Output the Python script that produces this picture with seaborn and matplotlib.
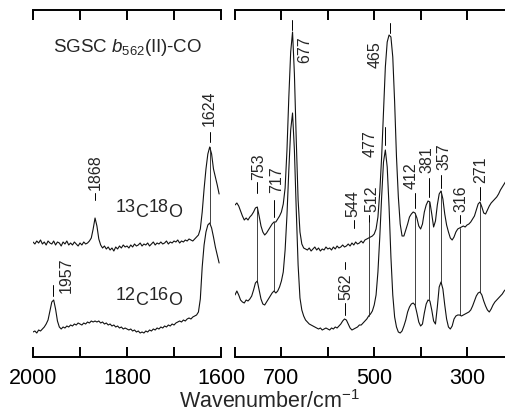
import numpy as np
import pandas as pd
import matplotlib
matplotlib.use("Agg")
import matplotlib.pyplot as plt
import matplotlib.transforms as mtransforms
import seaborn as sns

sns.set_style("white")
plt.rcParams['font.family'] = ['Liberation Sans', 'DejaVu Sans']
plt.rcParams['mathtext.fontset'] = 'custom'
plt.rcParams['mathtext.rm'] = 'Liberation Sans'
plt.rcParams['mathtext.it'] = 'Liberation Sans:italic'
plt.rcParams['mathtext.bf'] = 'Liberation Sans:bold'

# =====================================================
# DATA  (intensity in arbitrary units)
# =====================================================
# high-frequency window, 2000 -> 1604 cm-1, 4 cm-1 steps
wn_high = list(range(2000, 1603, -4))
co_13c18o = [
    115, 113, 116, 114, 117, 113, 115, 112, 116, 114,
    113, 116, 112, 115, 114, 111, 115, 113, 116, 112,
    114, 112, 115, 113, 111, 114, 112, 115, 113, 114,
    116, 119, 128, 139, 131, 118, 112, 109, 111, 108,
    110, 107, 109, 106, 110, 108, 111, 109, 112, 110,
    111, 109, 112, 110, 113, 111, 112, 114, 111, 113,
    112, 114, 111, 113, 115, 112, 114, 113, 115, 113,
    114, 116, 113, 115, 114, 116, 115, 117, 114, 116,
    115, 117, 116, 118, 117, 116, 118, 120, 122, 128,
    145, 168, 188, 203, 210, 203, 188, 180, 172, 163,
]
co_12c16o = [
    25, 26, 24, 27, 26, 28, 30, 33, 37, 46,
    55, 57, 48, 36, 30, 28, 30, 29, 31, 30,
    32, 31, 33, 32, 34, 33, 32, 34, 33, 35,
    34, 36, 35, 36, 35, 36, 34, 35, 33, 34,
    32, 33, 31, 32, 30, 31, 29, 30, 28, 29,
    28, 27, 28, 26, 27, 25, 26, 24, 25, 24,
    26, 25, 27, 26, 28, 27, 29, 28, 30, 29,
    31, 30, 32, 31, 33, 32, 34, 35, 36, 35,
    37, 36, 38, 39, 38, 40, 41, 42, 45, 58,
    90, 112, 125, 132, 134, 129, 120, 110, 102, 94,
]

# low-frequency window, 800 -> 216 cm-1, 4 cm-1 steps
wn_low = list(range(800, 215, -4))
low_13c18o = [
    152, 154, 151, 146, 141, 137, 139, 137, 140, 142,
    145, 149, 150, 141, 131, 125, 122, 124, 127, 130,
    133, 135, 135, 138, 141, 145, 153, 169, 207, 260,
    305, 325, 283, 217, 157, 125, 113, 109, 108, 107,
    109, 106, 108, 110, 107, 109, 106, 108, 107, 110,
    108, 109, 107, 110, 108, 111, 109, 110, 112, 110,
    111, 113, 111, 114, 112, 115, 113, 114, 116, 114,
    117, 118, 119, 120, 121, 123, 128, 140, 165, 200,
    245, 290, 315, 322, 320, 300, 255, 200, 160, 133,
    121, 121, 127, 133, 140, 143, 145, 144, 139, 131,
    128, 133, 145, 152, 156, 155, 143, 130, 136, 152,
    163, 166, 158, 143, 132, 125, 119, 117, 120, 125,
    128, 129, 130, 131, 130, 132, 133, 135, 138, 141,
    147, 153, 155, 150, 144, 143, 147, 151, 154, 156,
    158, 160, 163, 167, 170, 173, 176,
]
low_12c16o = [
    62, 66, 62, 57, 55, 54, 57, 56, 58, 61,
    67, 74, 76, 67, 58, 53, 52, 55, 58, 61,
    64, 66, 64, 66, 70, 76, 85, 107, 142, 187,
    227, 244, 207, 147, 92, 59, 47, 41, 37, 35,
    33, 32, 31, 30, 29, 28, 29, 27, 28, 29,
    28, 27, 29, 28, 30, 29, 31, 33, 36, 38,
    37, 33, 29, 27, 28, 29, 30, 32, 32, 34,
    36, 38, 41, 43, 46, 52, 62, 85, 120, 160,
    195, 207, 190, 150, 100, 62, 40, 30, 25, 24,
    26, 31, 37, 45, 50, 53, 54, 52, 44, 35,
    31, 33, 44, 53, 57, 56, 47, 36, 33, 50,
    70, 75, 68, 52, 38, 30, 28, 31, 38, 41,
    42, 42, 41, 42, 43, 44, 45, 47, 51, 56,
    61, 64, 65, 62, 56, 51, 47, 45, 48, 52,
    55, 57, 59, 61, 63, 66, 68,
]

peaks_high = [1957, 1868, 1624]
peaks_low = [753, 717, 677, 562, 544, 512, 477, 465, 412, 381, 357, 316, 271]

# label layout: tick (lo, hi), text x, text bottom, connector (lo, hi)
layout = {
    1957: ((61, 72), 1930, 64, None),
    1868: ((157, 164), 1868, 167, None),
    1624: ((215, 225), 1624, 231, (134, 210)),
    753: ((164, 175), 750, 177, (76, 148)),
    717: ((140, 157), 710, 164, (66, 135)),
    677: ((327, 337), 650, 294, None),
    562: ((42, 54), 562, 57, None),
    544: ((129, 137), 547, 140, None),
    512: ((135, 142), 506, 145, (41, 135)),
    477: ((212, 230), 508, 200, None),
    465: ((324, 334), 499, 289, None),
    412: ((149, 164), 420, 168, (52, 144)),
    381: ((160, 179), 387, 184, (57, 155)),
    357: ((169, 182), 350, 187, (75, 166)),
    316: ((134, 142), 313, 145, (42, 129)),
    271: ((157, 170), 270, 174, (65, 154)),
}

df_high = pd.DataFrame({'wn': wn_high, '13C18O': co_13c18o, '12C16O': co_12c16o})
df_low = pd.DataFrame({'wn': wn_low, '13C18O': low_13c18o, '12C16O': low_12c16o})

# =====================================================
# FIGURE
# =====================================================
W, H, DPI = 506, 416, 100
fig = plt.figure(figsize=(W / DPI, H / DPI), dpi=DPI)
bot = (H - 357) / H
top = (H - 10) / H
ax1 = fig.add_axes([33 / W, bot, (221 - 33) / W, top - bot])
ax2 = fig.add_axes([235 / W, bot, (506 - 235) / W, top - bot])

line_kw = dict(color='#111111', linewidth=0.8, sort=False, estimator=None, legend=False)
for ax, df in [(ax1, df_high), (ax2, df_low)]:
    sns.lineplot(data=df, x='wn', y='13C18O', ax=ax, **line_kw)
    sns.lineplot(data=df, x='wn', y='12C16O', ax=ax, **line_kw)
    ax.set_ylim(0, 347)
    ax.set_yticks([])
    ax.set_xlabel('')
    ax.set_ylabel('')
    ax.patch.set_alpha(0)
    for s in ['left', 'right']:
        ax.spines[s].set_visible(False)
    for s in ['top', 'bottom']:
        ax.spines[s].set_linewidth(1.4)
        ax.spines[s].set_color('black')
    ax.tick_params(axis='x', direction='in', length=7, width=1.4, top=True,
                   bottom=True, labelsize=15.5, pad=8, colors='black')

ax1.set_xlim(2000, 1600)
ax1.set_xticks([2000, 1900, 1800, 1700, 1600])
ax1.set_xticklabels(['2000', '', '1800', '', '1600'])
ax2.set_xlim(800, 216)
ax2.set_xticks([800, 700, 600, 500, 400, 300])
ax2.set_xticklabels(['', '700', '', '500', '', '300'])

# peak labels
for ax, peaks in [(ax1, peaks_high), (ax2, peaks_low)]:
    for p in peaks:
        (t0, t1), tx, ty, conn = layout[p]
        ax.plot([p, p], [t0, t1], color='black', lw=0.7)
        if conn is not None:
            ax.plot([p, p], list(conn), color='#222222', lw=0.6)
        ax.text(tx, ty, str(p), rotation=90, ha='center', va='bottom', fontsize=11.5)
# second dash above the 562 label
ax2.plot([562, 562], [88, 95], color='black', lw=0.7)


def iso_text(ax, x, y, parts, size):
    renderer = fig.canvas.get_renderer()
    dx = 0.0
    for s, up in parts:
        tr = mtransforms.offset_copy(ax.transData, fig=fig, x=dx, y=3.6 if up else 0,
                                     units='points')
        t = ax.text(x, y, s, transform=tr, fontsize=size, ha='left', va='baseline')
        dx += t.get_window_extent(renderer).width * 72 / fig.dpi


iso_text(ax1, 1825, 140, [('13', True), ('C', False), ('18', True), ('O', False)], 13)
iso_text(ax1, 1825, 52, [('12', True), ('C', False), ('16', True), ('O', False)], 13)
ax1.text(1957, 305, r'SGSC $b_{562}$(II)-CO', fontsize=13.5, ha='left', va='baseline')

fig.text(270 / W, (H - 408) / H, r'Wavenumber/cm$^{-1}$', fontsize=15.5,
         ha='center', va='baseline')

fig.savefig('out.png', dpi=DPI, facecolor='white')
